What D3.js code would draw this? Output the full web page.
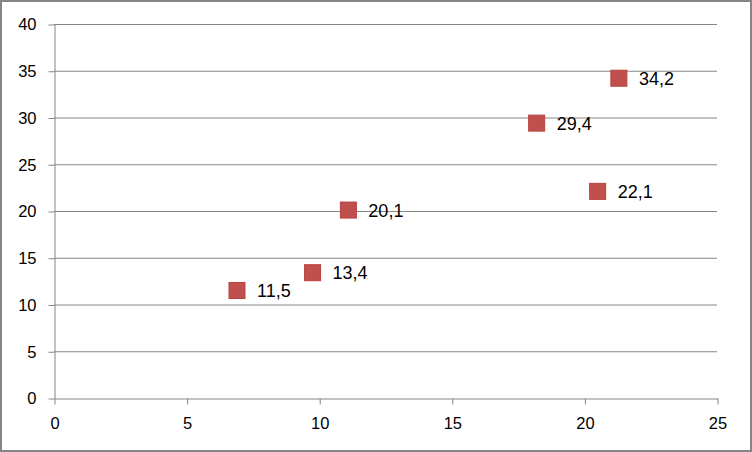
<!DOCTYPE html>
<html><head><meta charset="utf-8">
<script src="https://cdn.jsdelivr.net/npm/d3@7"></script>
<style>body{margin:0;background:#fff}svg{display:block}</style>
</head><body>
<script>
const xValues = [6.9, 9.75, 11.1, 18.2, 21.3, 20.5];
const yValues = [11.5, 13.4, 20.1, 29.4, 34.2, 22.1];
const pointLabels = ["11,5", "13,4", "20,1", "29,4", "34,2", "22,1"];
const xTicks = [0, 5, 10, 15, 20, 25];
const yTicks = [0, 5, 10, 15, 20, 25, 30, 35, 40];

const W = 752, H = 452;
const svg = d3.select("body").append("svg").attr("width", W).attr("height", H);
svg.append("rect").attr("x", 1).attr("y", 1).attr("width", W - 2).attr("height", H - 2)
  .attr("fill", "#fff").attr("stroke", "#868686").attr("stroke-width", 2);

const x = d3.scaleLinear().domain([0, 25]).range([54, 717]);
const y = d3.scaleLinear().domain([0, 40]).range([398, 24]);
const grey = "#868686";
const font = "Liberation Sans, Arial, sans-serif";

// gridlines
svg.append("g").selectAll("line").data(yTicks.filter(d => d > 0)).join("line")
  .attr("x1", x(0)).attr("x2", x(25)).attr("y1", d => y(d) + 0.5).attr("y2", d => y(d) + 0.5)
  .attr("stroke", grey).attr("stroke-width", 1);

// y axis
const ya = svg.append("g").attr("transform", `translate(${x(0) + 0.5},0.5)`)
  .call(d3.axisLeft(y).tickValues(yTicks).tickSize(6).tickSizeOuter(0).tickPadding(12));
ya.select(".domain").attr("stroke", grey);
ya.selectAll(".tick line").attr("stroke", grey);
ya.selectAll("text").attr("font-family", font).attr("font-size", 16.5).attr("fill", "#000");

// x axis
const xa = svg.append("g").attr("transform", `translate(0.5,${y(0) + 0.5})`)
  .call(d3.axisBottom(x).tickValues(xTicks).tickSize(6).tickSizeOuter(0).tickPadding(13));
xa.select(".domain").attr("stroke", grey);
xa.selectAll(".tick line").attr("stroke", grey);
xa.selectAll("text").attr("font-family", font).attr("font-size", 16.5).attr("fill", "#000");

const pts = xValues.map((v, i) => ({x: v, y: yValues[i], label: pointLabels[i]}));
const s = 16;
svg.append("g").selectAll("rect").data(pts).join("rect")
  .attr("x", d => x(d.x) - s / 2).attr("y", d => y(d.y) - s / 2)
  .attr("width", s).attr("height", s)
  .attr("fill", "#C0504D").attr("stroke", "#B9413E").attr("stroke-width", 1);

svg.append("g").selectAll("text").data(pts).join("text")
  .attr("x", d => x(d.x) + s / 2 + 12).attr("y", d => y(d.y))
  .attr("dy", "0.36em")
  .attr("font-family", font).attr("font-size", 18).attr("fill", "#000")
  .text(d => d.label);
</script>
</body></html>
